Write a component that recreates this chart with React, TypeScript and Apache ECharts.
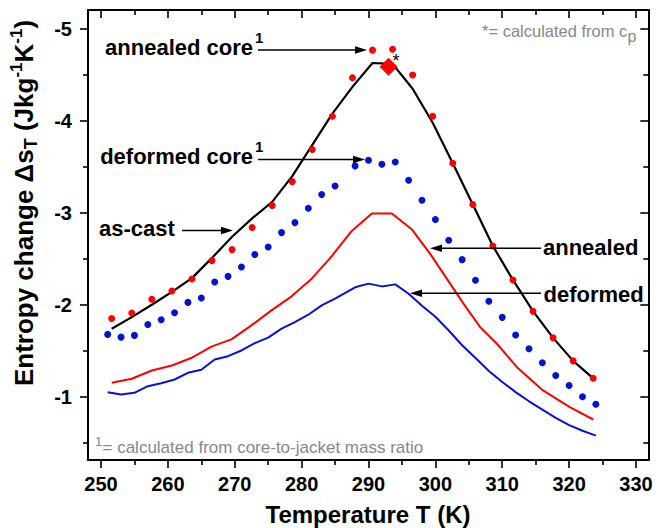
import React, { useEffect, useRef } from 'react';
import * as echarts from 'echarts';

// ---------- data ----------
const asCastT = [251.6, 254.6, 257.6, 260.6, 263.6, 266.6, 269.6, 272.6, 275.6, 278.6, 281.6, 284.6, 287.6, 290.6, 293.6, 296.6, 299.6, 302.6, 305.6, 308.6, 311.6, 314.6, 317.6, 320.6, 323.6];
const asCast = [-1.74, -1.866, -2.0, -2.14, -2.29, -2.51, -2.74, -2.94, -3.12, -3.4, -3.74, -4.08, -4.37, -4.63, -4.62, -4.35, -3.98, -3.54, -3.09, -2.64, -2.27, -1.93, -1.64, -1.39, -1.2];

const annealedCoreT = asCastT;
const annealedCore = [-1.85, -1.91, -2.06, -2.15, -2.28, -2.48, -2.6, -2.84, -3.08, -3.34, -3.69, -4.05, -4.47, -4.77, -4.78, -4.5, -4.05, -3.54, -3.09, -2.64, -2.27, -1.93, -1.64, -1.39, -1.2];

const annealedT = [251.6, 254.6, 257.6, 260.6, 263.6, 266.6, 269.5, 272.5, 275.5, 278.5, 281.5, 284.2, 287.5, 290.5, 293.5, 296.5, 299.2, 301.7, 304.2, 306.7, 309.2, 312.2, 316.1, 320.1, 323.6];
const annealed = [-1.151, -1.195, -1.285, -1.34, -1.424, -1.547, -1.623, -1.776, -1.939, -2.092, -2.284, -2.502, -2.803, -2.992, -2.992, -2.818, -2.557, -2.284, -2.012, -1.757, -1.576, -1.321, -1.068, -0.887, -0.752];

const deformedT = [251, 253, 255, 257, 259, 261, 263, 265, 267, 269, 271, 273, 275, 277, 279, 281, 283, 285, 288, 290, 292, 294, 296, 298, 300, 302, 304, 306, 308, 310, 312, 314, 316, 318, 320, 322, 324];
const deformedCore = [-1.678, -1.648, -1.667, -1.786, -1.838, -1.914, -2.026, -2.073, -2.247, -2.309, -2.411, -2.546, -2.629, -2.785, -2.894, -3.05, -3.199, -3.293, -3.511, -3.573, -3.529, -3.554, -3.355, -3.137, -2.927, -2.702, -2.491, -2.266, -2.039, -1.863, -1.672, -1.522, -1.369, -1.231, -1.122, -0.999, -0.918];
const deformed = [-1.049, -1.024, -1.042, -1.114, -1.147, -1.187, -1.26, -1.293, -1.405, -1.441, -1.503, -1.583, -1.642, -1.74, -1.812, -1.892, -1.993, -2.066, -2.19, -2.23, -2.2, -2.222, -2.12, -1.99, -1.87, -1.72, -1.56, -1.42, -1.28, -1.16, -1.05, -0.95, -0.86, -0.77, -0.69, -0.63, -0.577];

const cpPointT = [293.0];
const cpPoint = [-4.59];

const xMajorTicks = [250, 260, 270, 280, 290, 300, 310, 320, 330];
const xMinorTicks = [255, 265, 275, 285, 295, 305, 315, 325];
const yMajorTicks = [-5, -4, -3, -2, -1];
const yMinorTicks = [-4.5, -3.5, -2.5, -1.5, -0.5];

const X_MIN = 248.056;
const X_MAX = 331.84;
const Y_MIN = -5.2067;
const Y_MAX = -0.3114;

// ---------- styling ----------
const FONT = "'Liberation Sans', Arial, Helvetica, sans-serif";
const RED = '#ff0000';
const BLUE = '#0612d0';
const GRAY = '#888888';

const zip = (xs: number[], ys: number[]) => xs.map((x, i) => [x, ys[i]]);

function xAxisDef(position: 'top' | 'bottom', ticks: number[], len: number, inside: boolean, labels: boolean, line: boolean) {
  return {
    type: 'value',
    position,
    min: X_MIN,
    max: X_MAX,
    axisLine: { show: line, onZero: false, lineStyle: { color: '#000', width: 2 } },
    axisTick: { show: true, inside, length: len, customValues: ticks, lineStyle: { color: '#000', width: 1.6 } },
    axisLabel: labels
      ? { show: true, customValues: xMajorTicks, margin: 14, color: '#000', fontSize: 20, fontWeight: 'bold', fontFamily: FONT }
      : { show: false },
    splitLine: { show: false },
  };
}

function yAxisDef(position: 'left' | 'right', ticks: number[], len: number, inside: boolean, labels: boolean, line: boolean) {
  return {
    type: 'value',
    position,
    inverse: true,
    min: Y_MIN,
    max: Y_MAX,
    axisLine: { show: line, onZero: false, lineStyle: { color: '#000', width: 2 } },
    axisTick: { show: true, inside, length: len, customValues: ticks, lineStyle: { color: '#000', width: 1.6 } },
    axisLabel: labels
      ? { show: true, customValues: yMajorTicks, margin: 16, color: '#000', fontSize: 20, fontWeight: 'bold', fontFamily: FONT, formatter: (v: number) => String(v) }
      : { show: false },
    splitLine: { show: false },
  };
}

function arrow(x1: number, tip: number, y: number) {
  const dir = tip > x1 ? 1 : -1;
  return [
    { type: 'line', z: 100, shape: { x1, y1: y, x2: tip - dir * 8, y2: y }, style: { stroke: '#000', lineWidth: 1.6 } },
    {
      type: 'polygon', z: 100,
      shape: { points: [[tip, y], [tip - dir * 12, y - 3.8], [tip - dir * 12, y + 3.8]] },
      style: { fill: '#000' },
    },
  ];
}

function label(text: string, x: number, y: number, align: string, size = 22, color = '#000', weight = 'bold') {
  return {
    type: 'text', z: 100, x, y,
    style: { text, fill: color, font: `${weight} ${size}px ${FONT}`, align, verticalAlign: 'middle' },
  };
}

const option = {
  animation: false,
  backgroundColor: '#fff',
  grid: { left: 88, right: 18.7, top: 10, bottom: 68, containLabel: false, outerBoundsMode: 'none' },
  xAxis: [
    xAxisDef('bottom', xMajorTicks, 8, false, true, true),
    xAxisDef('bottom', xMinorTicks, 5, false, false, false),
    xAxisDef('top', xMajorTicks, 8, true, false, true),
    xAxisDef('top', xMinorTicks, 5, true, false, false),
  ],
  yAxis: [
    yAxisDef('left', yMajorTicks, 8, false, true, true),
    yAxisDef('left', yMinorTicks, 5, false, false, false),
    yAxisDef('right', yMajorTicks, 8, true, false, true),
    yAxisDef('right', yMinorTicks, 5, true, false, false),
  ],
  series: [
    {
      name: 'deformed', type: 'line', data: zip(deformedT, deformed), symbol: 'none',
      lineStyle: { color: BLUE, width: 2 }, z: 2,
    },
    {
      name: 'annealed', type: 'line', data: zip(annealedT, annealed), symbol: 'none',
      lineStyle: { color: RED, width: 2 }, z: 2,
    },
    {
      name: 'as-cast', type: 'line', data: zip(asCastT, asCast), symbol: 'none',
      lineStyle: { color: '#000', width: 2.2 }, z: 3,
    },
    {
      name: 'deformed core', type: 'scatter', data: zip(deformedT, deformedCore), symbol: 'circle', symbolSize: 7,
      itemStyle: { color: BLUE, opacity: 1 }, z: 4,
    },
    {
      name: 'annealed core', type: 'scatter', data: zip(annealedCoreT, annealedCore), symbol: 'circle', symbolSize: 7,
      itemStyle: { color: RED, opacity: 1 }, z: 4,
    },
    {
      name: 'cp', type: 'scatter', data: zip(cpPointT, cpPoint), symbol: 'diamond', symbolSize: 18,
      itemStyle: { color: RED, opacity: 1 }, z: 5,
      label: { show: true, formatter: '*', position: [13, -6], color: '#000', fontSize: 18, fontFamily: FONT, align: 'left', verticalAlign: 'top' },
    },
  ],
  graphic: [
    // left annotations
    label('annealed core', 253, 47.5, 'right'),
    label('1', 255, 37, 'left', 15),
    ...arrow(258, 367, 50),
    label('deformed core', 253, 156, 'right'),
    label('1', 255, 146, 'left', 15),
    ...arrow(258, 365, 159.5),
    label('as-cast', 99, 228, 'left'),
    ...arrow(182, 233, 230.5),
    // right annotations
    label('annealed', 543, 247.5, 'left'),
    ...arrow(541, 430, 248.3),
    label('deformed', 543.5, 294, 'left'),
    ...arrow(541, 410, 293.3),
    // notes
    label('*= calculated from c', 482, 31, 'left', 16.5, GRAY, 'normal'),
    label('p', 627.5, 36, 'left', 16, GRAY, 'normal'),
    label('1', 95, 441, 'left', 13, GRAY, 'normal'),
    label('= calculated from core-to-jacket mass ratio', 102.5, 447, 'left', 17, GRAY, 'normal'),
    // axis titles
    {
      type: 'text', z: 100, x: 368, y: 514,
      style: { text: 'Temperature T (K)', fill: '#000', font: `bold 24px ${FONT}`, align: 'center', verticalAlign: 'middle' },
    },
    {
      type: 'text', z: 100, x: 24, y: 203, rotation: Math.PI / 2,
      style: {
        text: '{a|Entropy change Δs}{sub|T}{a| (Jkg}{sup|-1}{a|K}{sup|-1}{a|)}',
        fill: '#000', align: 'center', verticalAlign: 'middle',
        rich: {
          a: { fontSize: 26, fontWeight: 'bold', fontFamily: FONT, lineHeight: 32, verticalAlign: 'middle', fill: '#000' },
          sub: { fontSize: 18, fontWeight: 'bold', fontFamily: FONT, lineHeight: 18, verticalAlign: 'bottom', fill: '#000' },
          sup: { fontSize: 17, fontWeight: 'bold', fontFamily: FONT, lineHeight: 17, verticalAlign: 'top', fill: '#000' },
        },
      },
    },
  ],
};

export default function App() {
  const ref = useRef<HTMLDivElement>(null);
  useEffect(() => {
    if (!ref.current) return;
    const chart = echarts.init(ref.current, null, { renderer: 'svg' });
    chart.setOption(option as any);
    return () => chart.dispose();
  }, []);
  return <div ref={ref} style={{ position: 'absolute', left: 0, top: 0, width: 667, height: 528, background: '#fff' }} />;
}
